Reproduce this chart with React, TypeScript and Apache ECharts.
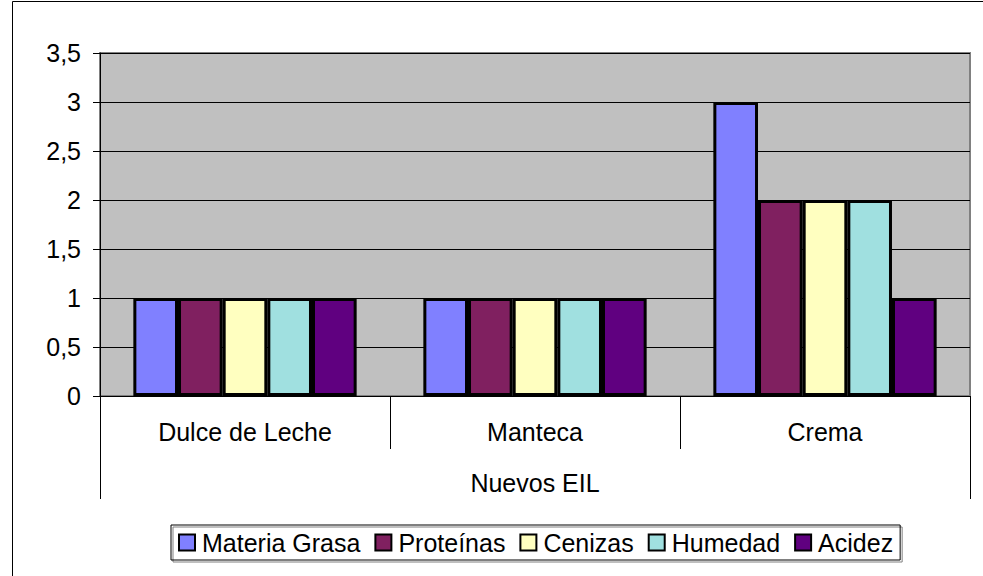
import React, { useEffect, useRef } from "react";
import * as echarts from "echarts";

const categories = ["Dulce de Leche", "Manteca", "Crema"];
const groupLabel = ["Nuevos EIL"];
const seriesNames = ["Materia Grasa", "Proteínas", "Cenizas", "Humedad", "Acidez"];
const materiaGrasa = [1, 1, 3];
const proteinas = [1, 1, 2];
const cenizas = [1, 1, 2];
const humedad = [1, 1, 2];
const acidez = [1, 1, 1];
const seriesColors = ["#8080FF", "#802060", "#FFFFC0", "#A0E0E0", "#600080"];
const yTicks = { min: 0, max: 3.5, interval: 0.5 };

const FONT = '"Liberation Sans", Arial, sans-serif';

export default function App() {
  const ref = useRef<HTMLDivElement>(null);
  useEffect(() => {
    if (!ref.current) return;
    const chart = echarts.init(ref.current, undefined, { renderer: "svg" });
    const values = [materiaGrasa, proteinas, cenizas, humedad, acidez];
    chart.setOption({
      animation: false,
      backgroundColor: "#FFFFFF",
      textStyle: { fontFamily: FONT },
      graphic: [
        {
          type: "rect",
          shape: { x: 12.5, y: 1.5, width: 1000, height: 1000 },
          style: { fill: "none", stroke: "#000", lineWidth: 1 },
          silent: true,
        },
      ],
      grid: {
        left: 100,
        right: 13,
        top: 53,
        bottom: 180,
        show: true,
        backgroundColor: "#C0C0C0",
        borderColor: "#808080",
        borderWidth: 2,
      },
      legend: {
        left: 171,
        top: 525,
        data: seriesNames,
        itemWidth: 16,
        itemHeight: 16,
        itemGap: 14,
        padding: [5, 7],
        borderColor: "#000",
        borderWidth: 1,
        shadowColor: "rgba(0,0,0,0.5)",
        shadowOffsetX: 2,
        shadowOffsetY: 2,
        icon: "rect",
        itemStyle: { borderColor: "#000", borderWidth: 2 },
        textStyle: { fontSize: 25, color: "#000", fontFamily: FONT, padding: [0, 0, 0, 2] },
      },
      xAxis: [
        {
          type: "category",
          data: categories,
          position: "bottom",
          axisLine: { show: true, lineStyle: { color: "#000", width: 1 } },
          axisTick: { show: true, interval: 0, length: 53, lineStyle: { color: "#000" } },
          axisLabel: { fontSize: 25, color: "#000", margin: 23, fontFamily: FONT },
          splitLine: { show: false },
        },
        {
          type: "category",
          data: groupLabel,
          position: "bottom",
          offset: 53,
          axisLine: { show: false },
          axisTick: { show: true, interval: 0, length: 50, lineStyle: { color: "#000" } },
          axisLabel: { fontSize: 25, color: "#000", margin: 21, fontFamily: FONT },
          splitLine: { show: false },
        },
      ],
      yAxis: {
        type: "value",
        min: yTicks.min,
        max: yTicks.max,
        interval: yTicks.interval,
        axisLine: { show: true, lineStyle: { color: "#000", width: 1 } },
        axisTick: { show: true, length: 7, lineStyle: { color: "#000" } },
        axisLabel: {
          fontSize: 25,
          color: "#000",
          margin: 19,
          fontFamily: FONT,
          formatter: (v: number) => String(v).replace(".", ","),
        },
        splitLine: { show: true, lineStyle: { color: "#000", width: 1 } },
      },
      series: seriesNames.map((name, i) => ({
        name,
        type: "bar",
        xAxisIndex: 0,
        data: values[i],
        barGap: "0%",
        barCategoryGap: "23%",
        itemStyle: { color: seriesColors[i], borderColor: "#000", borderWidth: 3 },
      })),
    });
    return () => chart.dispose();
  }, []);
  return (
    <div
      ref={ref}
      style={{ position: "absolute", left: 0, top: 0, width: 983, height: 576 }}
    />
  );
}
